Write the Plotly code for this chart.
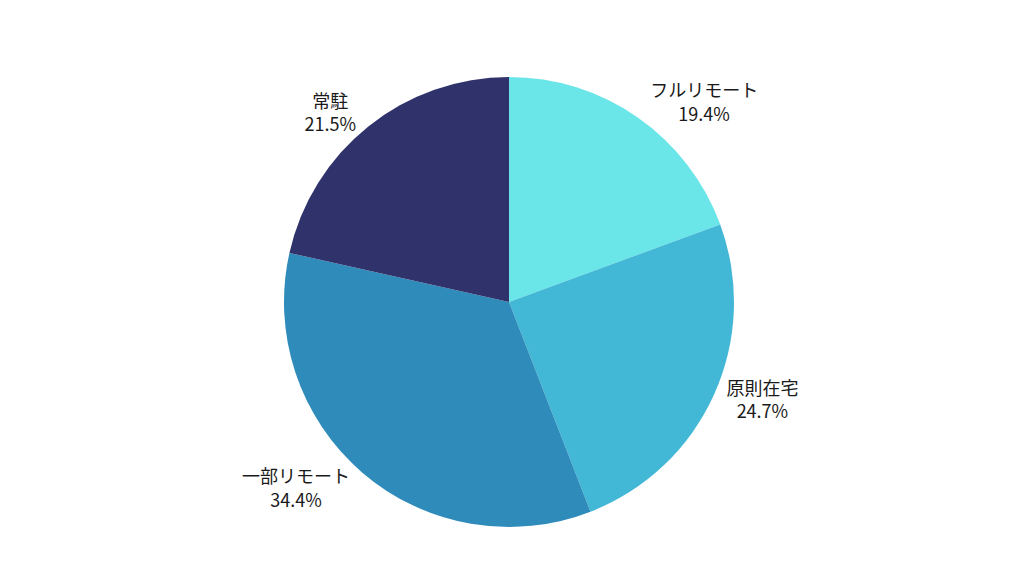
import plotly.graph_objects as go

labels = ["フルリモート", "原則在宅", "一部リモート", "常駐"]
values = [19.4, 24.7, 34.4, 21.5]
colors = ["#6ae5e8", "#43b7d6", "#2e8bba", "#30336b"]

fig = go.Figure(go.Pie(
    labels=labels,
    values=values,
    sort=False,
    direction="clockwise",
    rotation=0,
    marker=dict(colors=colors),
    texttemplate="%{label}<br>%{percent:.1%}",
    textposition="outside",
    textfont=dict(size=18, color="#1a1a1a", family="Noto Sans CJK JP"),
    showlegend=False,
    hoverinfo="skip",
))

fig.update_layout(
    width=1024, height=576,
    margin=dict(l=14, r=0, t=69, b=57),
    paper_bgcolor="white",
    font=dict(family="Noto Sans CJK JP"),
)

fig.write_html("out.html", default_width="1024px", default_height="576px")
